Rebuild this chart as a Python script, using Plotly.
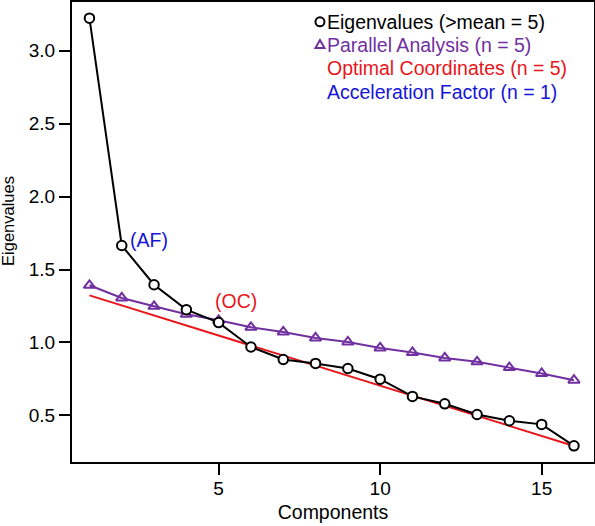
import plotly.graph_objects as go

components = list(range(1, 17))
eigenvalues = [3.224, 1.665, 1.396, 1.225, 1.136, 0.969, 0.883, 0.856,
               0.821, 0.748, 0.630, 0.579, 0.506, 0.463, 0.438, 0.291]
parallel = [1.392, 1.305, 1.248, 1.193, 1.152, 1.104, 1.072, 1.031,
            1.003, 0.962, 0.931, 0.894, 0.867, 0.828, 0.787, 0.741]
oc_x = [1, 16]
oc_y = [1.323, 0.29]

legend_labels = ["Eigenvalues (>mean = 5)", "Parallel Analysis (n = 5)",
                 "Optimal Coordinates (n = 5)", "Acceleration Factor (n = 1)"]
x_ticks = [5, 10, 15]
y_ticks = [0.5, 1.0, 1.5, 2.0, 2.5, 3.0]
y_ticktext = ["0.5", "1.0", "1.5", "2.0", "2.5", "3.0"]

BLACK = "#000000"
PURPLE = "#7030A0"
RED = "#E8161B"
BLUE = "#1515D6"
FONT = "Liberation Sans, Arial, sans-serif"
TS = 19.5

fig = go.Figure()
fig.add_trace(go.Scatter(x=oc_x, y=oc_y, mode="lines",
                         line=dict(color=RED, width=2), showlegend=False))
fig.add_trace(go.Scatter(x=components, y=parallel, mode="lines+markers",
                         line=dict(color=PURPLE, width=2),
                         marker=dict(symbol="triangle-up-open", size=10,
                                     color=PURPLE, line=dict(width=2, color=PURPLE)),
                         showlegend=False))
fig.add_trace(go.Scatter(x=components, y=eigenvalues, mode="lines+markers",
                         line=dict(color=BLACK, width=2),
                         marker=dict(symbol="circle", size=9.5, color="white",
                                     line=dict(width=2, color=BLACK)),
                         showlegend=False))

# point annotations
fig.add_annotation(x=components[1], y=eigenvalues[1], text="(AF)", showarrow=False,
                   xanchor="left", yanchor="middle", xshift=6, yshift=5,
                   font=dict(family=FONT, size=TS, color=BLUE))
fig.add_annotation(x=5.55, y=1.282, text="(OC)", showarrow=False,
                   xanchor="center", yanchor="middle",
                   font=dict(family=FONT, size=TS, color=RED))

# legend (text + symbols)
colors = [BLACK, PURPLE, RED, BLUE]
row_y = [0.957, 0.9065, 0.856, 0.805]
for lab, c, yy in zip(legend_labels, colors, row_y):
    fig.add_annotation(xref="paper", yref="paper", x=0.4846, y=yy, text=lab,
                       showarrow=False, xanchor="left", yanchor="middle",
                       font=dict(family=FONT, size=TS, color=c))
fig.add_shape(type="circle", xref="paper", yref="paper", xsizemode="pixel",
              ysizemode="pixel", xanchor=0.475, yanchor=row_y[0],
              x0=-4.5, x1=4.5, y0=-4.5, y1=4.5,
              line=dict(color=BLACK, width=2), fillcolor="white")
fig.add_shape(type="path", xref="paper", yref="paper", xsizemode="pixel",
              ysizemode="pixel", xanchor=0.475, yanchor=row_y[1],
              path="M -4.5,-3 L 4.5,-3 L 0,5 Z",
              line=dict(color=PURPLE, width=2))

# y-axis title
fig.add_annotation(xref="paper", yref="paper", x=-0.1226, y=0.524, text="Eigenvalues",
                   textangle=-90, showarrow=False, xanchor="center", yanchor="middle",
                   font=dict(family=FONT, size=16.5, color="black"))

axis_common = dict(showline=True, linecolor="black", linewidth=2, mirror=True,
                   ticks="outside", ticklen=11, tickwidth=2, tickcolor="black",
                   showgrid=False, zeroline=False,
                   tickfont=dict(family=FONT, size=19, color="black"))

fig.update_xaxes(range=[0.46, 16.62], tickvals=x_ticks, ticklabelstandoff=-3,
                 title=dict(text="Components", font=dict(family=FONT, size=TS, color="black"),
                            standoff=8),
                 **axis_common)
fig.update_yaxes(range=[0.18, 3.335], tickvals=y_ticks, ticktext=y_ticktext,
                 **axis_common)

fig.update_layout(width=595, height=526, margin=dict(l=72, r=1, t=2, b=64, autoexpand=False),
                  plot_bgcolor="white", paper_bgcolor="white",
                  font=dict(family=FONT))

fig.write_html("out.html", config={"displayModeBar": False},
               post_script="document.body.style.margin='0';")
